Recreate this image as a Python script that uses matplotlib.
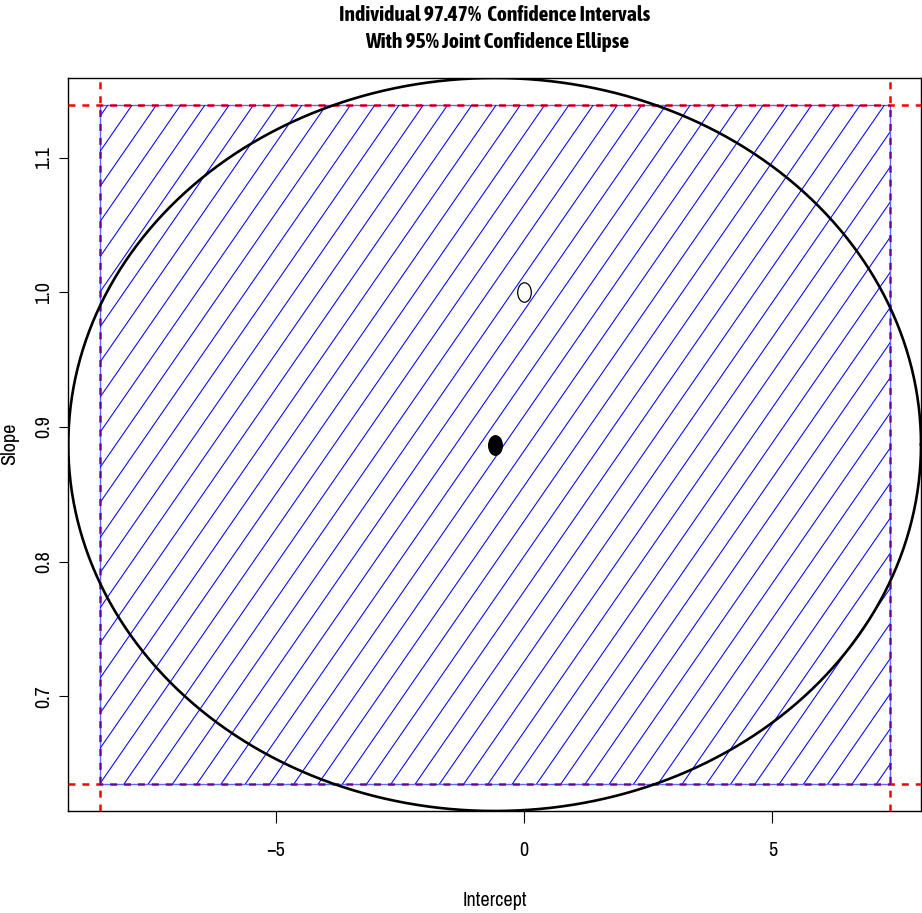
import numpy as np
import matplotlib
matplotlib.use("Agg")
import matplotlib.pyplot as plt
from matplotlib.path import Path
from matplotlib.patches import Rectangle
from matplotlib import font_manager
import matplotlib.patheffects as pe

# ---------------- data ----------------
estimate = [-0.59, 0.887]            # (intercept, slope) estimate
hypothesis = [0.0, 1.0]              # hypothesised (intercept, slope)
ci_intercept = [-8.537, 7.358]       # individual 97.47% CI for intercept
ci_slope = [0.6348, 1.1394]          # individual 97.47% CI for slope
ellipse_half = [8.58, 0.2723]        # half-extent of 95% joint ellipse (intercept, slope)
ellipse_corr = 0.0                   # correlation shaping the ellipse
x_ticks = [-5, 0, 5]
y_ticks = [0.7, 0.8, 0.9, 1.0, 1.1]
title_lines = ["Individual 97.47%  Confidence Intervals", "With 95% Joint Confidence Ellipse"]
xlabel = "Intercept"
ylabel = "Slope"

# ---------------- fonts ----------------
entries = font_manager.fontManager.ttflist
avail = sorted({f.name for f in entries})
narrow = [n for n in avail if ("Narrow" in n or "Condensed" in n) and "Mono" not in n and "Serif" not in n]


def wnum(w):
    if isinstance(w, (int, float)):
        return w
    return font_manager.weight_dict.get(str(w).lower(), 400)


bold_narrow = [n for n in narrow if any(e.name == n and wnum(e.weight) >= 600 for e in entries)]
base = [f for f in ["Liberation Sans", "DejaVu Sans"] if f in avail]
fam = narrow[:1] + base
title_fam = (bold_narrow[:1] or narrow[:1]) + base
fake_bold = len(bold_narrow) == 0 and len(narrow) > 0
plt.rcParams['font.family'] = fam
plt.rcParams['lines.scale_dashes'] = False
fs_scale = 1.12 if narrow else 1.0

W, H = 922, 913
dpi = 100
fig = plt.figure(figsize=(W / dpi, H / dpi), dpi=dpi)
left, right, top, bottom = 68.3, 921.0, 78.0, 811.0
ax = fig.add_axes([left / W, 1 - bottom / H, (right - left) / W, (bottom - top) / H])

# ellipse
t = np.linspace(0, 2 * np.pi, 721)
r = ellipse_corr
u = np.cos(t)
v = r * np.cos(t) + np.sqrt(1 - r ** 2) * np.sin(t)
ex = estimate[0] + ellipse_half[0] * u
ey = estimate[1] + ellipse_half[1] * v
ax.set_xlim(ex.min(), ex.max())
ax.set_ylim(ey.min(), ey.max())

# hatching of CI rectangle (computed in display space, converted to data)
fig.canvas.draw()
tr = ax.transData
(x0, y0), (x1, y1) = tr.transform([[ci_intercept[0], ci_slope[0]], [ci_intercept[1], ci_slope[1]]])
sp = 24.27
slope = 1.447
hgt = y1 - y0
dxh = hgt / slope
rect = Rectangle((ci_intercept[0], ci_slope[0]), ci_intercept[1] - ci_intercept[0],
                 ci_slope[1] - ci_slope[0], fill=False, edgecolor='none')
ax.add_patch(rect)
kmin = int(np.floor(-dxh / sp)) - 1
kmax = int(np.ceil((x1 - x0) / sp)) + 1
inv = tr.inverted()
for k in range(kmin, kmax + 1):
    xa = x0 + k * sp
    pts = inv.transform([[xa, y0], [xa + dxh, y1]])
    ln, = ax.plot(pts[:, 0], pts[:, 1], color='blue', lw=0.75, zorder=2)
    ln.set_clip_path(rect)

# red dashed reference lines
for xv in ci_intercept:
    ax.axvline(xv, color='red', lw=1.8, dashes=(5, 5), zorder=3)
for yv in ci_slope:
    ax.axhline(yv, color='red', lw=1.8, dashes=(5, 5), zorder=3)

# blue rectangle border
bx = [ci_intercept[0], ci_intercept[1], ci_intercept[1], ci_intercept[0], ci_intercept[0]]
by = [ci_slope[0], ci_slope[0], ci_slope[1], ci_slope[1], ci_slope[0]]
ax.plot(bx, by, color='blue', lw=1.0, alpha=0.6, zorder=4)

# ellipse line
ax.plot(ex, ey, color='black', lw=1.9, zorder=5)

# points (squashed circles as in reference)
circ = Path.unit_circle()
ell_marker = Path(circ.vertices * np.array([0.70, 1.0]), circ.codes)
ax.plot([estimate[0]], [estimate[1]], marker=ell_marker, ms=14, color='black',
        mfc='black', mec='black', ls='none', zorder=6)
ax.plot([hypothesis[0]], [hypothesis[1]], marker=ell_marker, ms=14, color='black',
        mfc='white', mec='black', mew=0.9, ls='none', zorder=6)

# axes styling
ax.set_xticks(x_ticks)
ax.set_xticklabels(["\u2212" + str(abs(v)) if v < 0 else str(v) for v in x_ticks])
ax.set_yticks(y_ticks)
ax.set_yticklabels([f"{v:.1f}" for v in y_ticks])
for s in ax.spines.values():
    s.set_linewidth(1.0)
ax.tick_params(axis='x', length=8.6, width=0.8, pad=13, labelsize=13 * fs_scale)
ax.tick_params(axis='y', length=6.5, width=0.8, pad=4.5, labelsize=13 * fs_scale, labelrotation=90)
for lab in ax.get_yticklabels():
    lab.set_va('center')

fig.text(494.6 / W, 1 - 906 / H, xlabel, ha='center', va='baseline', fontsize=13 * fs_scale)
fig.text(10 / W, 1 - 444 / H, ylabel, ha='center', va='center', fontsize=13 * fs_scale, rotation=90)
effects = [pe.withStroke(linewidth=0.9, foreground='black')] if fake_bold else None
for txt, xc, yb in [(title_lines[0], 495, 20.7), (title_lines[1], 497, 48.3)]:
    fig.text(xc / W, 1 - yb / H, txt, ha='center', va='baseline',
             fontsize=13.8 * fs_scale if narrow else 13.5, fontweight='bold',
             family=title_fam, path_effects=effects)

fig.savefig("out.png", dpi=dpi)
